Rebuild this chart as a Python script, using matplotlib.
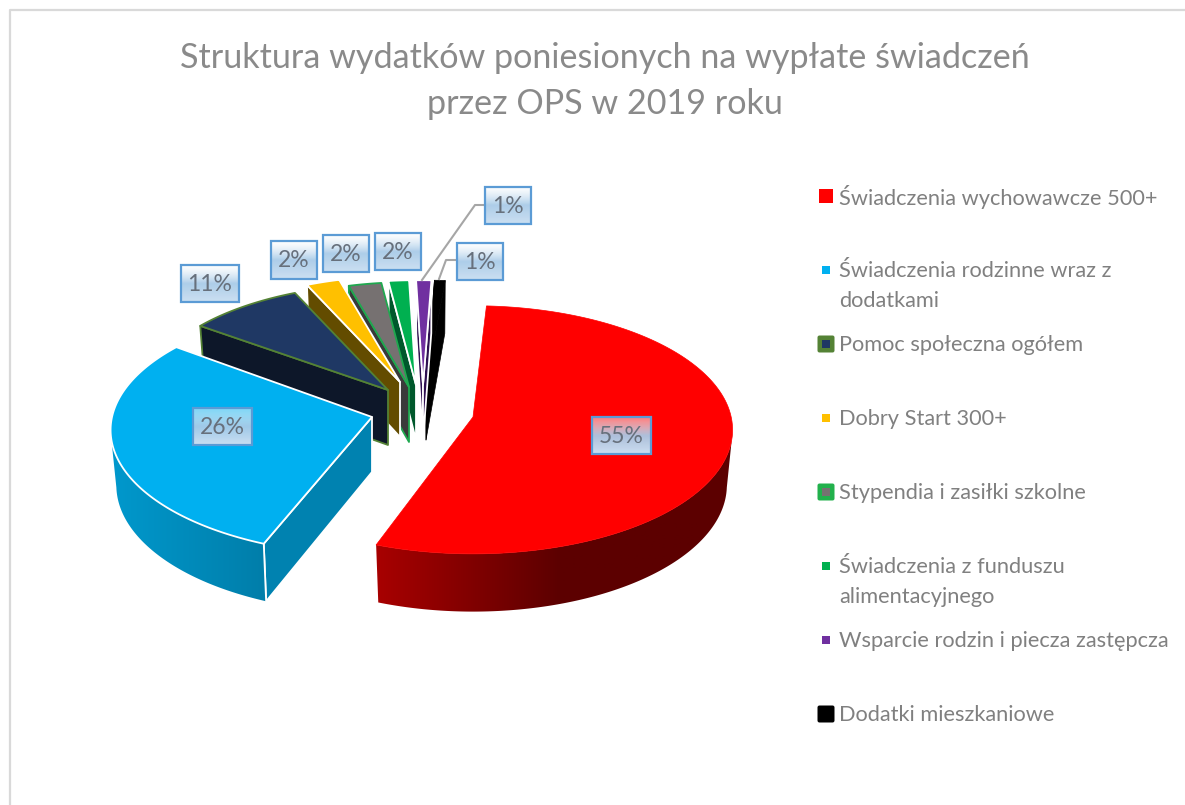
import matplotlib
matplotlib.use('Agg')
import matplotlib.pyplot as plt
from matplotlib.colors import to_rgb
from matplotlib.patches import Polygon, Rectangle, FancyBboxPatch
import numpy as np

plt.rcParams['font.family'] = ['Lato', 'DejaVu Sans']

# dane z wykresu
kategorie = ['Świadczenia wychowawcze 500+', 'Świadczenia rodzinne wraz z\ndodatkami',
             'Pomoc społeczna ogółem', 'Dobry Start 300+', 'Stypendia i zasiłki szkolne',
             'Świadczenia z funduszu\nalimentacyjnego', 'Wsparcie rodzin i piecza zastępcza',
             'Dodatki mieszkaniowe']
udzialy = [55, 26, 11, 2, 2, 2, 1, 1]
etykiety = ['55%', '26%', '11%', '2%', '2%', '2%', '1%', '1%']

kolory = ['#ff0000', '#00b0f0', '#1f3864', '#ffc000', '#767171', '#00b050', '#7030a0', '#000000']
sciany = ['#5c0000', '#0082b0', '#0d1729', '#634c00', '#3a3a3a', '#00582c', '#2e1050', '#000000']
obrysy = ['#ff0000', '#ffffff', '#548235', '#ffffff', '#1fa84f', '#ffffff', '#ffffff', '#000000']

# wierzcholki wycinkow (wysuniecie) i skala promienia
wierzcholki = [(473, 417), (372, 417), (388, 390), (400, 382), (409, 387), (416, 385), (423, 385), (426, 385)]
skale = [0.993, 1.0, 0.94, 0.94, 0.93, 0.93, 0.93, 0.93]
# widok 3D w Excelu przesuwa granice wycinkow (stopnie, poczatek i koniec)
korekta_pocz = [0, 0.8, 10.8, 1.0, 2.5, 3.9, 2.1, 2.5]
korekta_kon = [-1.5, 12.0, 1.0, 2.5, 3.9, 2.1, 2.5, 1.7]
kat_startu = 86.7

# ramki etykiet: x0, y0, x1, y1
ramki = [(592, 417, 651, 454), (193, 408, 252, 445), (181, 265, 239, 302), (271, 241, 317, 279),
         (323, 235, 369, 272), (375, 233, 421, 270), (485, 187, 531, 224), (457, 243, 503, 280)]

A, B, K = 260.0, 123.6, 0.104
GLEBOKOSC = 55.0


def rzut(theta, r, wierzcholek, dol=False):
    """Rzut punktu tarczy na ekran z lekka perspektywa"""
    t = np.radians(theta)
    u, v = r * np.cos(t), r * np.sin(t)
    w = 1 + K * v
    x, y = A * u / w, -B * v / w
    if dol:
        x, y = x * 0.978, y * 1.02 + GLEBOKOSC
    return wierzcholek[0] + x, wierzcholek[1] + y


def sciana_luku(ax, t0, t1, r, wierzch, kolor_l, kolor_p, x_l, x_p, z):
    # sciana boczna: gradient poziomy przyciety do ksztaltu sciany
    katy = np.linspace(t0, t1, 150)
    xg, yg = rzut(katy, r, wierzch)
    xd, yd = rzut(katy, r, wierzch, dol=True)
    punkty = list(zip(xg, yg)) + list(zip(xd[::-1], yd[::-1]))
    ksztalt = Polygon(punkty, fc='none', ec='none', transform=ax.transData)
    ax.add_patch(ksztalt)
    xs = np.arange(min(xg.min(), xd.min()) - 2, max(xg.max(), xd.max()) + 2)
    c0, c1 = np.array(to_rgb(kolor_l)), np.array(to_rgb(kolor_p))
    t = np.clip((xs - x_l) / (x_p - x_l), 0, 1)[:, None]
    img = (c0 * (1 - t) + c1 * t)[None, :, :]
    im = ax.imshow(img, extent=(xs[0], xs[-1], max(yg.max(), yd.max()) + 2, min(yg.min(), yd.min()) - 2),
                   aspect='auto', zorder=z, interpolation='bilinear')
    im.set_clip_path(ksztalt)


fig = plt.figure(figsize=(11.85, 8.05), dpi=100)
ax = fig.add_axes([0, 0, 1, 1])

# ramka wykresu
ax.plot([10, 10, 1185], [805, 10.5, 10.5], color='#d9d9d9', lw=1.6, zorder=1)

# granice wycinkow w stopniach
narast = np.concatenate([[0], np.cumsum(udzialy)]) / sum(udzialy) * 360

kolejnosc = [7, 6, 5, 4, 3, 2, 0, 1]
for z, i in enumerate(kolejnosc):
    zb = 10 + z * 3
    t0 = kat_startu - narast[i] - korekta_pocz[i]
    t1 = kat_startu - narast[i + 1] - korekta_kon[i]
    w = wierzcholki[i]
    r = skale[i]
    lw = 1.3 if i in (1, 2, 3, 4, 5, 6) else 0.5

    # sciany ciec, widoczne tylko po stronie poczatku (dwa waskie wycinki maja obie)
    if i == 0:
        sciany_ciec = []
    elif i >= 6:
        sciany_ciec = [t0, t1]
    else:
        sciany_ciec = [t0]
    for kat in sciany_ciec:
        xa, ya = rzut(kat, r, w)
        xb, yb = rzut(kat, r, w, dol=True)
        ax.add_patch(Polygon([w, (xa, ya), (xb, yb), (w[0], w[1] + GLEBOKOSC)],
                             fc=sciany[i], ec=obrysy[i], lw=lw, joinstyle='round', zorder=zb))

    # sciana zewnetrzna
    if i == 0:
        sciana_luku(ax, -7, t1, r, w, '#5c0000', '#a80000', 560, 376, zb + 1)
    elif i == 1:
        sciana_luku(ax, t0, -173, r, w, '#0098cc', '#007eaa', 113, 264, zb + 1)
        xa, ya = rzut(t0, r, w)
        xb, yb = rzut(t0, r, w, dol=True)
        ax.plot([xa, xb], [ya, yb], color='white', lw=1.3, zorder=zb + 1)

    # gorna powierzchnia wycinka
    katy = np.linspace(t0, t1, 200)
    xs, ys = rzut(katy, r, w)
    punkty = [w] + list(zip(xs, ys))
    ax.add_patch(Polygon(punkty, fc=kolory[i], ec=obrysy[i], lw=lw, joinstyle='round', zorder=zb + 2))

# etykiety danych
stopy = np.array([[1, 1, 1, 0.5], [0.663, 0.796, 0.91, 0.95], [0.80, 0.878, 0.949, 1.0]])
pos = np.linspace(0, 1, 64)
grad = np.stack([np.interp(pos, [0, 0.5, 1], stopy[:, k]) for k in range(4)], axis=1)[:, None, :]
for (x0, y0, x1, y1), tekst in zip(ramki, etykiety):
    ax.imshow(grad, extent=(x0, x1, y1, y0), aspect='auto', zorder=50, interpolation='bilinear')
    ax.add_patch(Rectangle((x0, y0), x1 - x0, y1 - y0, fc='none', ec='#5b9bd5', lw=1.6, zorder=51))
    ax.text((x0 + x1) / 2, (y0 + y1) / 2 + 0.5, tekst, ha='center', va='center',
            fontsize=16.5, color='#67707c', zorder=52)

# linie odniesienia
ax.plot([485, 475, 422], [205, 205, 280], color='#a6a6a6', lw=1.5, zorder=45)
ax.plot([457, 446, 439], [260, 260, 279], color='#a6a6a6', lw=1.5, zorder=45)

# tytul
ax.text(605, 58, 'Struktura wydatków poniesionych na wypłate świadczeń', ha='center', va='center',
        fontsize=24.6, color='#8a8a8a')
ax.text(605, 104, 'przez OPS w 2019 roku', ha='center', va='center', fontsize=24.6, color='#8a8a8a')

# legenda
y_legendy = [196, 270, 344, 418, 492, 566, 640, 714]
obwodki = [None, None, '#548235', None, '#22b14c', None, None, None]
for i, (nazwa, y) in enumerate(zip(kategorie, y_legendy)):
    if i == 0:
        ax.add_patch(Rectangle((819, y - 7), 14, 14, fc=kolory[i], ec='none', zorder=5))
    elif i == 7:
        ax.add_patch(FancyBboxPatch((819, y - 7), 14, 14, boxstyle='round,pad=1.5,rounding_size=2',
                                    fc='black', ec='none', zorder=5))
    else:
        if obwodki[i]:
            ax.add_patch(FancyBboxPatch((819, y - 7), 14, 14, boxstyle='round,pad=1.5,rounding_size=2',
                                        fc=obwodki[i], ec='none', zorder=5))
        ax.add_patch(Rectangle((822, y - 4), 8, 8, fc=kolory[i], ec='none', zorder=6))
    linie = nazwa.split('\n')
    for j, linia in enumerate(linie):
        ax.text(839, y + 1 + j * 29.5, linia, ha='left', va='center', fontsize=15.7, color='#808080')

ax.set_xlim(0, 1185)
ax.set_ylim(805, 0)
ax.axis('off')

plt.savefig('out.png', dpi=100)
